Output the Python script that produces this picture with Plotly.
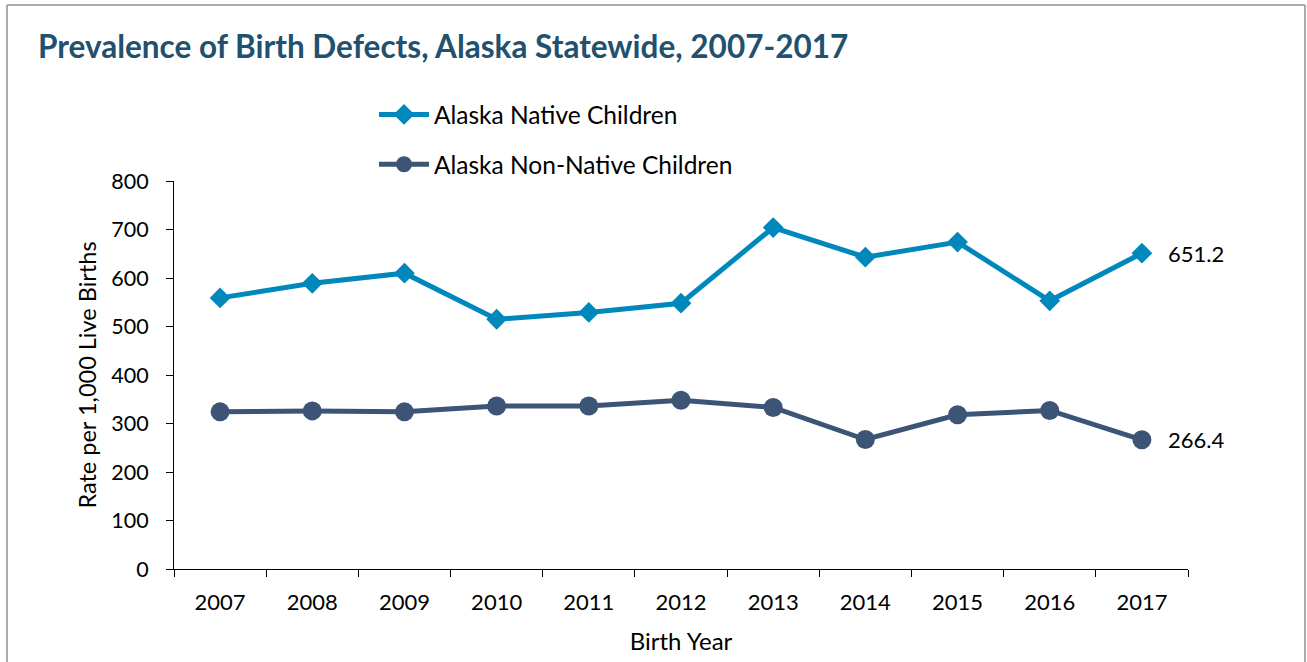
import plotly.graph_objects as go

years = ["2007", "2008", "2009", "2010", "2011", "2012", "2013", "2014", "2015", "2016", "2017"]
native = [559, 589, 610, 515, 529, 548, 704, 643, 674, 553, 651.2]
non_native = [324, 326, 324, 336, 336, 348, 333, 267, 318, 327, 266.4]
y_ticks = [0, 100, 200, 300, 400, 500, 600, 700, 800]

native_color = "#0088BD"
non_native_color = "#3C5577"
font_family = "Lato, 'Open Sans', sans-serif"

fig = go.Figure()
fig.add_trace(go.Scatter(
    x=years, y=native, mode="lines+markers", name="Alaska Native Children",
    line=dict(color=native_color, width=5),
    marker=dict(symbol="diamond", size=16, color=native_color),
    legendgroup="a",
))
fig.add_trace(go.Scatter(
    x=years, y=non_native, mode="lines+markers", name="Alaska Non-Native Children",
    line=dict(color=non_native_color, width=5),
    marker=dict(symbol="circle", size=19, color=non_native_color),
    legendgroup="b",
))

last = len(years) - 1
for series in (native, non_native):
    fig.add_annotation(x=last, y=series[-1], text=f"{series[-1]:.1f}", showarrow=False,
                       xanchor="left", xshift=24,
                       font=dict(size=22, color="#000000", family=font_family))

# frame border
L, R, T = (7 - 174) / 1014, (1305 - 174) / 1014, (569 - 5) / 388
B = (569 - 700) / 388
for x0, y0, x1, y1 in [(L, T, R, T), (L, T, L, B), (R, T, R, B)]:
    fig.add_shape(type="line", xref="paper", yref="paper", x0=x0, y0=y0, x1=x1, y1=y1,
                  line=dict(color="#AAAAAA", width=2))

fig.update_layout(
    width=1307, height=662,
    margin=dict(l=174, r=119, t=181, b=93, autoexpand=False),
    paper_bgcolor="white", plot_bgcolor="white",
    font=dict(family=font_family, color="#000000", size=20),
    title=dict(text="<b>Prevalence of Birth Defects, Alaska Statewide, 2007-2017</b>",
               x=38 / 1307, xanchor="left", y=1 - 47 / 662, yanchor="middle",
               font=dict(size=31.5, color="#22506F", family=font_family)),
    showlegend=True,
    legend=dict(x=(374 - 174) / 1014, y=(569 - 92) / 388, xanchor="left", yanchor="top",
                font=dict(size=24.5, family=font_family), tracegroupgap=15,
                bgcolor="rgba(0,0,0,0)", itemwidth=50),
    xaxis=dict(
        type="category", range=[-0.5, last + 0.5], automargin=False,
        showline=True, linecolor="#000000", linewidth=1,
        ticks="outside", tickson="boundaries", ticklen=7, tickcolor="#000000",
        showgrid=False, tickfont=dict(size=22), ticklabelstandoff=14, tickangle=0,
        title=dict(text="Birth Year", font=dict(size=24), standoff=18),
    ),
    yaxis=dict(
        range=[0, 800], tickvals=y_ticks, automargin=False,
        showline=True, linecolor="#000000", linewidth=1,
        ticks="outside", ticklen=7, tickcolor="#000000", showgrid=False, zeroline=False,
        tickfont=dict(size=21.5), ticklabelstandoff=13,
        title=dict(text="Rate per 1,000 Live Births", font=dict(size=23.5), standoff=8),
    ),
)

fig.write_html("out.html", config={"displayModeBar": False},
               post_script="document.body.style.margin='0px';")
